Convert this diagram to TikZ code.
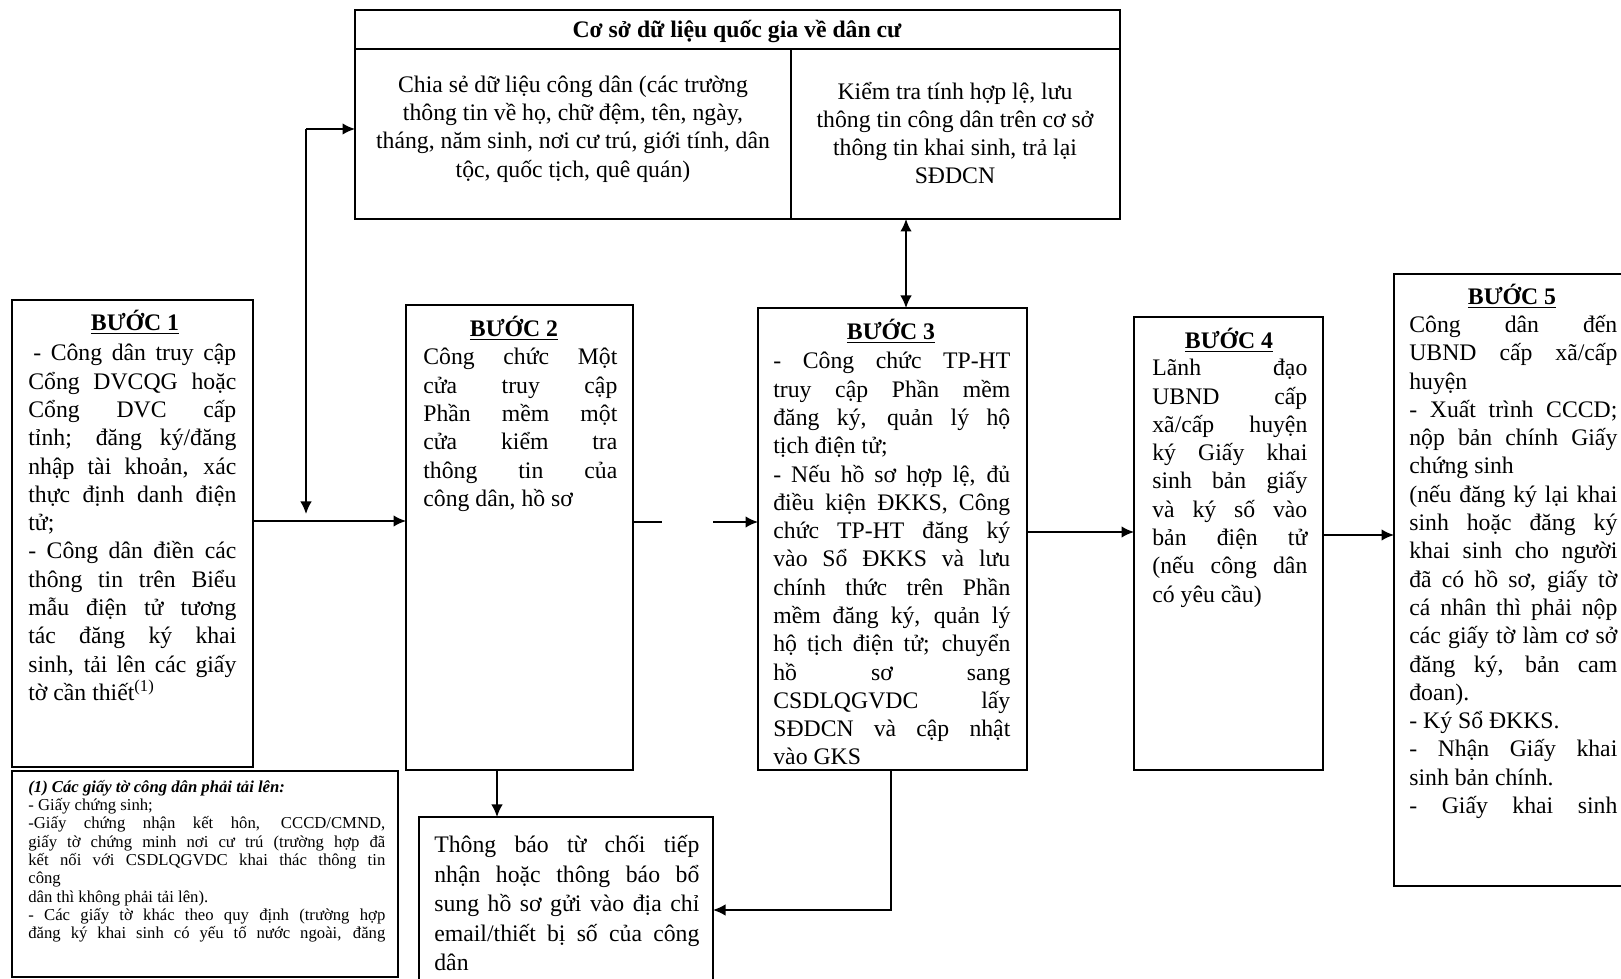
\documentclass[tikz,border=0pt]{standalone}
\usepackage{fontspec}
\setmainfont{Liberation Serif}
\usetikzlibrary{arrows.meta}
\newcommand\boxpar{\tolerance=10000 \hyphenpenalty=10000 \exhyphenpenalty=10000 \parindent=0pt\relax}
\tikzset{
  stepbox/.style={draw, line width=0.9pt, anchor=north west, inner sep=0pt, outer sep=0pt},
  steptitle/.style={anchor=base, inner sep=0pt, font=\fontsize{13.5}{16}\selectfont\bfseries},
  steptext/.style={anchor=north west, inner sep=0pt, align=justify, font=\fontsize{13.5}{16.1}\selectfont\boxpar},
  notetext/.style={anchor=north west, inner sep=0pt, align=justify, font=\fontsize{9.5}{10.4}\selectfont\boxpar},
  celltext/.style={inner sep=0pt, align=center, font=\fontsize{13.5}{16.1}\selectfont},
  arr/.style={line width=0.9pt, -{Latex[length=2.5mm,width=2.3mm]}},
  dblarr/.style={line width=0.9pt, {Latex[length=2.5mm,width=2.3mm]}-{Latex[length=2.5mm,width=2.3mm]}},
}
\begin{document}
\begin{tikzpicture}[x=0.2mm, y={(0mm,-0.2mm)}]
\clip (0,0) rectangle (1621,979);
%\draw[help lines,step=100] (0,0) grid (1621,979);

% boxes: name/x/y/width/height
\foreach \n/\x/\y/\w/\h in {top/355/10/153/41.8, b1/12/300/48.2/93.4, b2/406/305/45.4/93,
    b3/758/308/53.8/92.4, b4/1134/317/37.8/90.6, b5/1394/274/49.2/122.4,
    fn/12/771/77.2/41.2, note/419/817/58.8/36}{
  \node[stepbox, minimum width=\w mm, minimum height=\h mm] (\n) at (\x,\y) {};
}
\draw[line width=0.9pt] (355,49) -- (1120,49) (791,49) -- (791,219);

\node[celltext, font=\fontsize{13.5}{16.1}\selectfont\bfseries] (hdr) at (737,31) {Cơ sở dữ liệu quốc gia về dân cư};
\node[celltext] (cl) at (573,129) {Chia sẻ dữ liệu công dân (các trường\\thông tin về họ, chữ đệm, tên, ngày,\\tháng, năm sinh, nơi cư trú, giới tính, dân\\tộc, quốc tịch, quê quán)};
\node[celltext] (cr) at (955,133) {Kiểm tra tính hợp lệ, lưu\\thông tin công dân trên cơ sở\\thông tin khai sinh, trả lại\\SĐDCN};

% step titles
\foreach \n/\x/\y in {1/135/331, 2/514/337, 3/891/340, 4/1229/349, 5/1512/305}{
  \node[steptitle] (t\n) at (\x,\y) {\underline{BƯỚC \n}};
}

\node[steptext, text width=41.6mm] (x1) at (28,344) {\hspace*{1mm}- Công dân truy cập\linebreak Cổng DVCQG hoặc\linebreak Cổng DVC cấp\linebreak tỉnh; đăng ký/đăng\linebreak nhập tài khoản, xác\linebreak thực định danh điện\linebreak tử;\par - Công dân điền các\linebreak thông tin trên Biểu\linebreak mẫu điện tử tương\linebreak tác đăng ký khai\linebreak sinh, tải lên các giấy\linebreak tờ cần thiết\textsuperscript{(1)}};
\node[steptext, text width=38.8mm] (x2) at (423,348) {Công chức Một\linebreak cửa truy cập\linebreak Phần mềm một\linebreak cửa kiểm tra\linebreak thông tin của\linebreak công dân, hồ sơ};
\node[steptext, text width=47.4mm] (x3) at (773,352) {- Công chức TP-HT\linebreak truy cập Phần mềm\linebreak đăng ký, quản lý hộ\linebreak tịch điện tử;\par - Nếu hồ sơ hợp lệ, đủ\linebreak điều kiện ĐKKS, Công\linebreak chức TP-HT đăng ký\linebreak vào Sổ ĐKKS và lưu\linebreak chính thức trên Phần\linebreak mềm đăng ký, quản lý\linebreak hộ tịch điện tử; chuyển\linebreak hồ sơ sang\linebreak CSDLQGVDC lấy\linebreak SĐDCN và cập nhật\linebreak vào GKS};
\node[steptext, text width=31mm] (x4) at (1152,359) {Lãnh đạo\linebreak UBND cấp\linebreak xã/cấp huyện\linebreak ký Giấy khai\linebreak sinh bản giấy\linebreak và ký số vào\linebreak bản điện tử\linebreak (nếu công dân\linebreak có yêu cầu)};
\node[steptext, text width=41.6mm] (x5) at (1409,315) {Công dân đến\linebreak UBND cấp xã/cấp\linebreak huyện\par - Xuất trình CCCD;\linebreak nộp bản chính Giấy\linebreak chứng sinh\par (nếu đăng ký lại khai\linebreak sinh hoặc đăng ký\linebreak khai sinh cho người\linebreak đã có hồ sơ, giấy tờ\linebreak cá nhân thì phải nộp\linebreak các giấy tờ làm cơ sở\linebreak đăng ký, bản cam\linebreak đoan).\par - Ký Sổ ĐKKS.\par - Nhận Giấy khai\linebreak sinh bản chính.\par - Giấy khai sinh\linebreak};
\node[notetext, text width=71.4mm] (xf) at (28,780) {\textbf{\textit{(1) Các giấy tờ công dân phải tải lên:}}\par - Giấy chứng sinh;\par -Giấy chứng nhận kết hôn, CCCD/CMND,\linebreak giấy tờ chứng minh nơi cư trú (trường hợp đã\linebreak kết nối với CSDLQGVDC khai thác thông tin\linebreak công\par dân thì không phải tải lên).\par - Các giấy tờ khác theo quy định (trường hợp\linebreak đăng ký khai sinh có yếu tố nước ngoài, đăng\linebreak};
\node[steptext, text width=53mm, font=\fontsize{13.5}{16.8}\selectfont\boxpar] (xn) at (434,835) {Thông báo từ chối tiếp\linebreak nhận hoặc thông báo bổ\linebreak sung hồ sơ gửi vào địa chỉ\linebreak email/thiết bị số của công\linebreak dân};

% connectors
\coordinate (ja) at (306,129);
\coordinate (jb) at (306,514);
\coordinate (jc) at (306,521);
\draw[arr] (ja) -- (ja -| top.west);
\draw[arr] (ja) -- (jb);
\draw[arr] (b1.east |- jc) -- (b2.west |- jc);
\coordinate (jg) at (662,522);
\coordinate (jh) at (713,522);
\draw[line width=0.9pt] (b2.east |- jg) -- (jg);
\draw[arr] (jh) -- (b3.west |- jh);
\coordinate (jd) at (906,260);
\draw[dblarr] (top.south -| jd) -- (b3.north -| jd);
\coordinate (jf) at (497,790);
\draw[arr] (b2.south -| jf) -- (note.north -| jf);
\coordinate (je) at (891,910);
\draw[arr] (b3.south -| je) |- (note.east |- je);
\coordinate (ji) at (1080,532);
\draw[arr] (b3.east |- ji) -- (b4.west |- ji);
\coordinate (jj) at (1360,535);
\draw[arr] (b4.east |- jj) -- (b5.west |- jj);
\end{tikzpicture}
\end{document}
